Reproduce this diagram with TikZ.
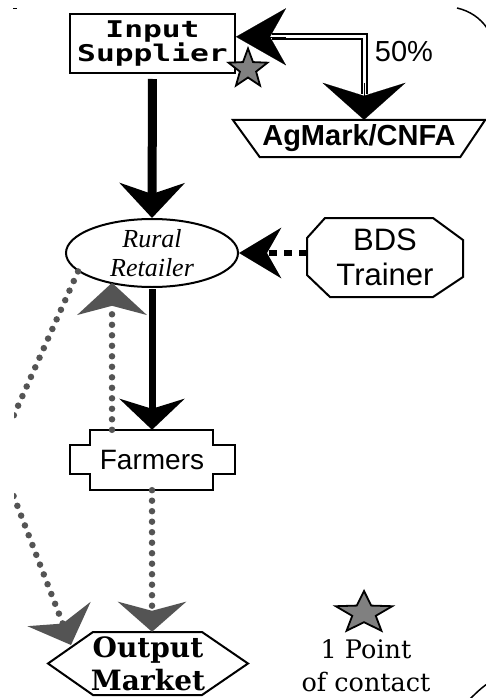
\documentclass[tikz,border=0pt]{standalone}
\usepackage{fontspec}
\usepackage{graphicx}
\usetikzlibrary{arrows.meta,shapes.geometric,calc}
\newfontfamily\supfont{DejaVu Sans Mono}
\newfontfamily\lsans{Liberation Sans}
\newfontfamily\lserif{Liberation Serif}
\newfontfamily\djserif{DejaVu Serif}
\definecolor{dotgray}{gray}{0.33}
\definecolor{stargray}{gray}{0.5}
\begin{document}
\begin{tikzpicture}[x=1pt,y=1pt,
  box/.style={inner sep=0pt, align=center},
  frame/.style={draw=black, line width=2pt, line join=miter},
  dotline/.style={draw=dotgray, line width=6.5pt, dash pattern=on 0pt off 10.5pt, line cap=round},
  tipstar/.style={star, star points=5, star point ratio=2.4, inner sep=0pt, draw=black, fill=stargray, line width=1.8pt}
]
\useasboundingbox (0,0) rectangle (485,-698);
\fill[white] (0,0) rectangle (485,-698);

% nodes
\node[box, draw=black, line width=2pt, minimum width=165pt, minimum height=59pt,
  font={\supfont\bfseries\fontsize{23}{23}\selectfont}] (sup) at (152.5,-43.5)
  {\scalebox{1.36}[1]{Input}\\\scalebox{1.36}[1]{Supplier}};

\node[box, minimum width=252pt, minimum height=37pt,
  font={\lsans\bfseries\fontsize{29}{30}\selectfont}] (ag) at (359,-138.5) {AgMark/CNFA};
\draw[frame] (ag.north west) -- (ag.north east) -- ($(ag.south east)+(-25,0)$) -- ($(ag.south west)+(27,0)$) -- cycle;

\node[box, font={\lsans\fontsize{29}{30}\selectfont}] (pct) at (404,-52) {50\%};

\node[ellipse, draw=black, line width=2pt, minimum width=172pt, minimum height=68pt, inner sep=0pt, align=center,
  font={\lserif\itshape\fontsize{26}{29}\selectfont}] (rr) at (152,-253) {Rural\\Retailer};

\node[box, minimum width=156pt, minimum height=79pt,
  font={\lsans\fontsize{31}{35}\selectfont}] (bds) at (385,-257.5) {BDS\\Trainer};
\draw[frame, shift={(bds.center)}] (-60,39.5) -- (48,39.5) -- (78,17.5) -- (78,-19.5) -- (48,-39.5) -- (-55,-39.5) -- (-78,-17.5) -- (-78,19.5) -- cycle;

\node[box, minimum width=165pt, minimum height=60pt,
  font={\lsans\fontsize{28}{30}\selectfont}] (fa) at (152,-460) {Farmers};
\draw[frame, shift={(fa.center)}] (-62,30) -- (61,30) -- (61,15) -- (83,15) -- (83,-14) -- (61,-14) -- (61,-30) -- (-62,-30) -- (-62,-14) -- (-82,-14) -- (-82,15) -- (-62,15) -- cycle;

\node[box, minimum width=200pt, minimum height=63pt,
  font={\djserif\bfseries\fontsize{28}{33}\selectfont}] (om) at (148,-663.5) {Output\\Market};
\draw[frame, shift={(om.center)}] (-100,0) -- (-55,31.5) -- (54,31.5) -- (100,0) -- (54,-31.5) -- (-55,-31.5) -- cycle;

% legend
\node[tipstar, minimum size=44pt, xscale=1.35] (ls) at (364,-613) {};
\node[box, font={\djserif\fontsize{25.5}{33}\selectfont}] (lt) at (366,-665.5) {1 Point\\of contact};

% solid black arrows
\draw[line width=9pt, -{Stealth[length=35pt,width=65pt,inset=11pt]}, shorten <=5pt] (sup.south) -- (rr.north);
\draw[line width=7pt, -{Stealth[length=31pt,width=65pt,inset=10pt]}, shorten <=1pt] (rr.south) -- (fa.north);

% BDS dashed arrow
\draw[line width=6pt, dash pattern=on 8pt off 7pt, -{Stealth[length=42pt,width=50pt,inset=14pt]}] (rr.east -| bds.west) -- (rr.east);

% double line between Input Supplier and AgMark
\coordinate (dl) at ($(sup.north east)!0.39!(sup.south east)$);
\coordinate (cr) at ($(dl -| ag.north)+(5,0)$);
\draw[double=white, double distance=3pt, line width=2pt] ($(dl)+(36,0)$) -- (cr) -- ($(cr |- ag.north)+(0,26)$);
\draw[line width=0.1pt, -{Stealth[length=50pt,width=57pt,inset=16pt]}] ($(dl)+(50,0)$) -- (dl);
\draw[line width=0.1pt, -{Stealth[length=37pt,width=83pt,inset=13pt]}] ($(cr |- ag.north)+(0,37)$) -- (cr |- ag.north);

% star at Input Supplier
\node[tipstar, minimum size=41pt] (st) at (248,-69) {};

% gray dotted arrows
\draw[dotline, -{Stealth[length=32pt,width=69pt,inset=9pt]}] ($(fa.north)+(-40,0)$) -- ($(fa.north)+(-40,147)$);
\draw[dotline, -{Stealth[length=30pt,width=68pt,inset=9pt]}] (fa.south) -- (fa.south |- om.north);
\begin{scope}
  \clip (14,0) rectangle (485,-698);
  \draw[dotline, rounded corners=30pt, -{Stealth[length=33pt,width=67pt,inset=10pt]}] (rr.194) -- (-3,-453) -- (71,-645);
\end{scope}

% frame fragments
\draw[line width=1.5pt] (457,-8) .. controls (470,-11) and (480,-18) .. (487,-28);
\draw[line width=1.5pt] (469,-700) .. controls (475,-694) and (480,-689) .. (487,-684);
\draw[line width=1pt] (13,-8.5) -- (17,-8.5);
\end{tikzpicture}
\end{document}
